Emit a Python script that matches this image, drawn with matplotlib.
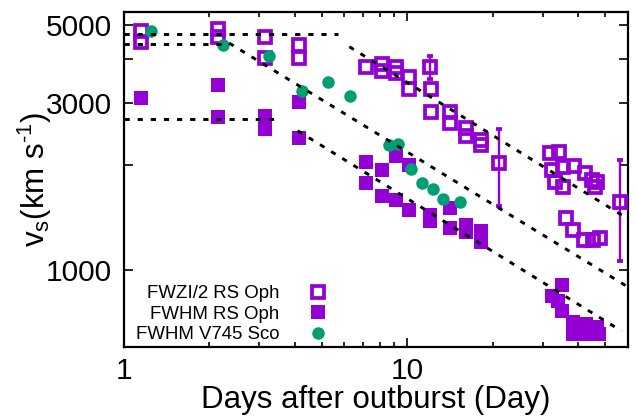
import matplotlib
matplotlib.use("Agg")
import matplotlib.pyplot as plt
from matplotlib.ticker import FixedLocator, NullFormatter, FixedFormatter

plt.rcParams['font.family'] = ['Liberation Sans', 'DejaVu Sans']
plt.rcParams['mathtext.fontset'] = 'custom'
plt.rcParams['mathtext.rm'] = 'Liberation Sans'
plt.rcParams['mathtext.it'] = 'Liberation Sans'

PURPLE = '#9400D3'
GREEN = '#009E73'

# FWZI/2 RS Oph (open squares)
fwzi_t = [1.15, 1.15, 2.15, 2.15, 3.15, 3.15, 4.15, 4.15, 7.15, 8.13, 8.13, 9.12, 9.12,
          10.16, 10.16, 12.1, 12.1, 14.19, 14.19, 16.13, 16.13, 18.21, 18.21,
          32.0, 34.4, 32.5, 35.3, 38.6, 33.1, 35.3, 42.5, 44.7, 46.9, 45.8,
          36.2, 38.3, 41.9, 45.4, 47.7]
fwzi_v = [4818, 4496, 4882, 4631, 4631, 4047, 4393, 4047, 3790, 3878, 3703, 3810, 3667,
          3560, 3296, 3296, 2828, 2828, 2625, 2540, 2420, 2345, 2275,
          2160, 2174, 1931, 1969, 1982, 1784, 1726, 1893, 1808, 1784, 1726,
          1408, 1301, 1218, 1218, 1234]
# FWZI/2 points with error bars
fwzi_err_t = [12.06, 21.05, 56.5]
fwzi_err_v = [3810, 2022, 1567]
fwzi_err_lo = [3520, 1524, 1061]
fwzi_err_hi = [4096, 2528, 2062]

# FWHM RS Oph (filled squares)
fwhm_t = [1.15, 2.15, 2.15, 3.15, 3.15, 4.15, 4.15, 7.15, 7.15, 8.13, 8.13, 9.12, 9.12,
          10.16, 10.16, 12.06, 12.06, 14.19, 14.19, 16.13, 16.13, 18.21, 18.21,
          35.2, 32.4, 34.0, 35.2, 38.4, 38.4, 42.6, 42.6, 46.7, 47.3]
fwhm_v = [3100, 3378, 2742, 2760, 2528, 3026, 2388, 2039, 1776, 1931, 1627, 2117, 1585,
          1990, 1484, 1435, 1380, 1500, 1320, 1345, 1286, 1292, 1200,
          906, 843, 817, 762, 712, 656, 701, 656, 689, 655]

# FWHM V745 Sco (circles)
v745_t = [1.243, 2.238, 3.24, 4.238, 5.258, 6.274, 8.64, 9.30, 10.31, 11.27, 12.29, 13.33, 15.36]
v745_v = [4828, 4408, 4096, 3246, 3451, 3147, 2276, 2299, 1940, 1769, 1703, 1595, 1567]

# Dashed model lines (start/end in time and velocity)
line_t0 = [1.0, 1.0, 1.0, 6.24, 2.35, 4.1]
line_t1 = [5.7, 2.22, 3.58, 60.0, 59.4, 57.0]
line_v0 = [4714, 4415, 2700, 4345, 4450, 2500]
line_v1 = [4714, 4415, 2700, 1401, 900, 670]

fig = plt.figure(figsize=(6.38, 4.19), dpi=100)
ax = fig.add_axes([0.1944, 0.1718, 0.7896, 0.7996])
ax.set_xscale('log')
ax.set_yscale('log')

yerr = [[v - lo for v, lo in zip(fwzi_err_v, fwzi_err_lo)],
        [hi - v for v, hi in zip(fwzi_err_v, fwzi_err_hi)]]

OPEN_MS, OPEN_MEW = 8.5, 2.7
ax.plot(fwzi_t, fwzi_v, linestyle='none', marker='s', ms=OPEN_MS, mfc='none',
        mec=PURPLE, mew=OPEN_MEW, zorder=3, label='FWZI/2 RS Oph')
ax.errorbar(fwzi_err_t, fwzi_err_v, yerr=yerr, fmt='s', ms=OPEN_MS, mfc='none',
            mec=PURPLE, mew=OPEN_MEW, ecolor=PURPLE, elinewidth=1.7, capsize=2.4,
            capthick=2.2, zorder=3)
ax.plot(fwhm_t, fwhm_v, linestyle='none', marker='s', ms=9.5, mfc=PURPLE,
        mec=PURPLE, mew=0, zorder=4, label='FWHM RS Oph')
ax.plot(v745_t, v745_v, linestyle='none', marker='o', ms=9, mfc=GREEN,
        mec=GREEN, mew=0, zorder=5, label='FWHM V745 Sco')

for t0, t1, v0, v1 in zip(line_t0, line_t1, line_v0, line_v1):
    ax.plot([t0, t1], [v0, v1], color='black', lw=2.1,
            linestyle=(0, (1.8, 2.7)), zorder=6)

ax.set_xlim(1, 60)
ax.set_ylim(603, 5460)

ax.xaxis.set_major_locator(FixedLocator([1, 10]))
ax.xaxis.set_major_formatter(FixedFormatter(['1', '10']))
ax.xaxis.set_minor_locator(FixedLocator([2, 3, 4, 5, 6, 7, 8, 9, 20, 30, 40, 50]))
ax.xaxis.set_minor_formatter(NullFormatter())
ax.yaxis.set_major_locator(FixedLocator([1000, 2000, 3000, 4000, 5000]))
ax.yaxis.set_major_formatter(FixedFormatter(['1000', '', '3000', '', '5000']))
ax.yaxis.set_minor_locator(FixedLocator([]))
ax.yaxis.set_minor_formatter(NullFormatter())

ax.tick_params(which='both', direction='in', top=True, right=True, width=1.2,
               labelsize=21.5)
ax.tick_params(which='major', length=6.5)
ax.tick_params(which='minor', length=3.8)
ax.tick_params(axis='x', pad=7)
ax.tick_params(axis='y', pad=9)
for s in ax.spines.values():
    s.set_linewidth(1.6)

ax.set_xlabel('Days after outburst (Day)', fontsize=22.5, labelpad=0)
ax.set_ylabel(r'$\mathregular{v_s(km\ s^{\text{-}1})}$', fontsize=22.5)
ax.yaxis.set_label_coords(-0.14, 0.5)

leg = ax.legend(loc='lower left', bbox_to_anchor=(-0.006, -0.033), frameon=False,
                fontsize=13.4, markerfirst=False, handletextpad=1.05,
                handlelength=2.0, labelspacing=0.19, borderpad=0.3)

fig.savefig('out.png', dpi=100)
